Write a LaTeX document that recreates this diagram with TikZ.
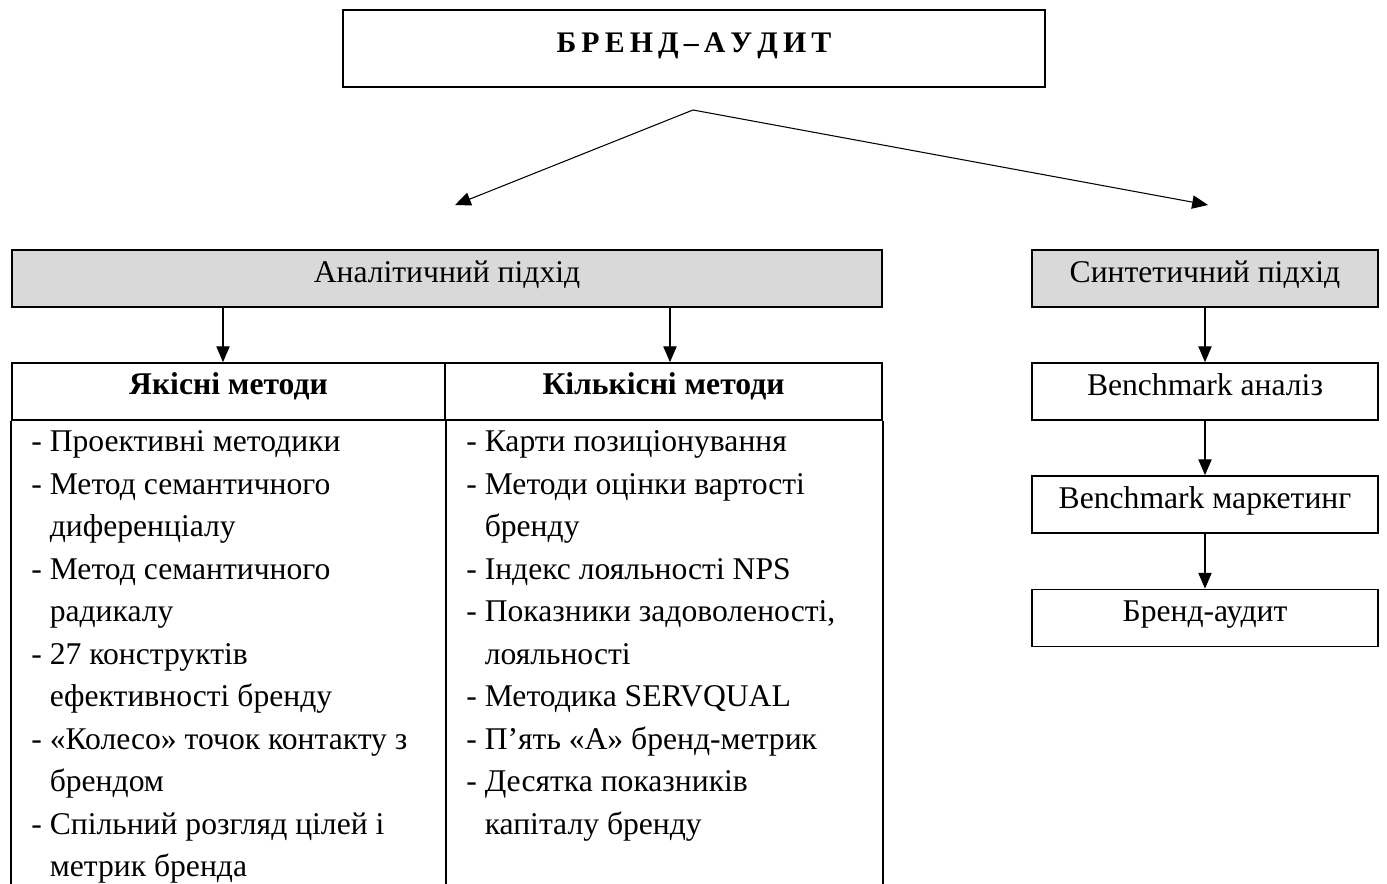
\documentclass[tikz,border=0pt]{standalone}
\usepackage{fontspec}
\setmainfont{Liberation Serif}
\usetikzlibrary{arrows.meta}
\definecolor{headgrey}{HTML}{D9D9D9}
\tikzset{
 box/.style={draw,line width=1pt,inner sep=0pt,minimum height=1.14cm,text height=12.6pt,text depth=8.6pt,font=\fontsize{18}{21}\selectfont},
 headbox/.style={box,text height=12pt,text depth=9pt},
 greybox/.style={box,fill=headgrey},
 arr/.style={-{Triangle[length=9pt,width=7.6pt]},line width=0.6pt},
 item/.style={anchor=base west,inner sep=0pt,font=\fontsize{18}{21}\selectfont}
}
\newcommand{\cnt}{\hphantom{-} }

\begin{document}
\begin{tikzpicture}[x=0.02cm,y=-0.02cm]
\useasboundingbox (0,0) rectangle (1387,884);
\node[box,line width=1.4pt,minimum width=14.04cm,minimum height=1.54cm,font=\fontsize{17}{20}\selectfont] (audit) at (694,48.5)
 {\spaceskip=0.17em\relax\textbf{Б Р Е Н Д – А У Д И Т}};
\coordinate (fork) at (693,110);
\coordinate (lft) at (455,205);
\coordinate (rgt) at (1208,205);
\draw[arr] (fork) -- (lft);
\draw[arr] (fork) -- (rgt);
\node[greybox,minimum width=17.4cm] (anal) at (447,278.5) {Аналітичний підхід};
\node[greybox,minimum width=6.92cm] (synt) at (1205,278.5) {Синтетичний підхід};
\node[headbox,minimum width=8.66cm] (qual) at (228.5,391.5) {\textbf{Якісні методи}};
\node[headbox,minimum width=8.74cm] (quant) at (663.5,391.5) {\textbf{Кількісні методи}};
\coordinate (bottom) at (0,884);
\coordinate (qa) at (223,0);
\coordinate (ka) at (670,0);
\draw[line width=1pt] (qual.south west) -- (qual.south west |- bottom)
 (qual.south east) -- (qual.south east |- bottom)
 (quant.south east) -- (quant.south east |- bottom);
\draw[arr] (anal.south -| qa) -- (qual.north -| qa);
\draw[arr] (anal.south -| ka) -- (quant.north -| ka);
\node[box,minimum width=6.92cm] (bana) at (1205,391.5) {Benchmark аналіз};
\node[box,minimum width=6.92cm] (bmar) at (1205,504.5) {Benchmark маркетинг};
\node[box,minimum width=6.92cm] (brand) at (1205,618) {Бренд-аудит};
\draw[arr] (synt) -- (bana);
\draw[arr] (bana) -- (bmar);
\draw[arr] (bmar) -- (brand);
\foreach \t [count=\i] in {- Проективні методики, - Метод семантичного, \cnt диференціалу,
 - Метод семантичного, \cnt радикалу, - 27 конструктів, \cnt ефективності бренду,
 - «Колесо» точок контакту з, \cnt брендом, - Спільний розгляд цілей і, \cnt метрик бренда}
 \node[item] (q\i) at (31,452+42.5*\i-42.5) {\t};
\foreach \t [count=\i] in {- Карти позиціонування, - Методи оцінки вартості, \cnt бренду,
 - Індекс лояльності NPS, {- Показники задоволеності,}, \cnt лояльності, - Методика SERVQUAL,
 - П’ять «А» бренд-метрик, - Десятка показників, \cnt капіталу бренду}
 \node[item] (k\i) at (466,452+42.5*\i-42.5) {\t};
\end{tikzpicture}
\end{document}
